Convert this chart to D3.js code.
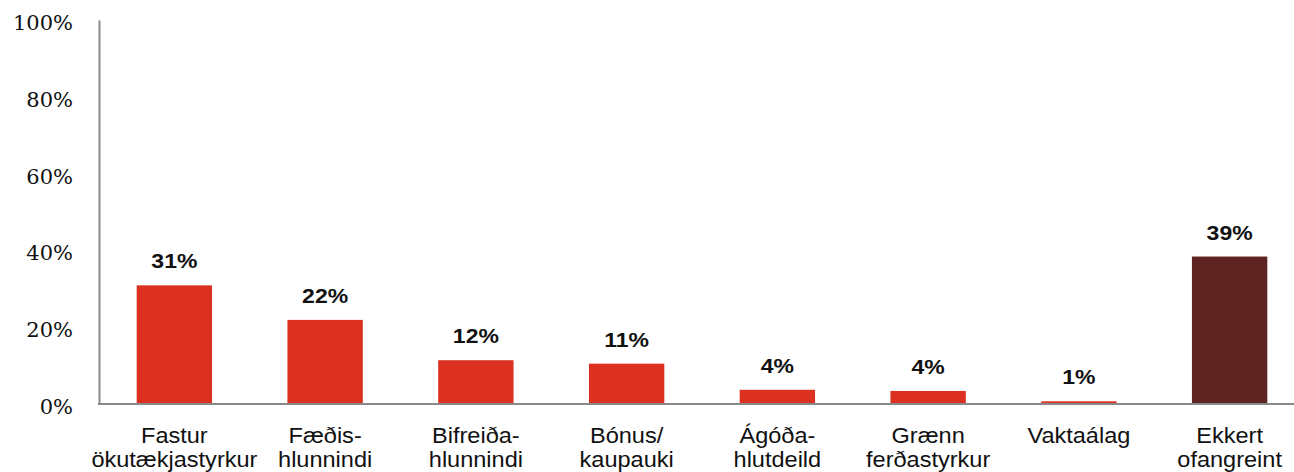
<html>
<head>
  <script src="https://d3js.org/d3.v7.min.js"></script>
  <style>
    body { margin: 0; background: #fff; }
    .ytick text { font-family: "DejaVu Serif", serif; font-size: 21px; fill: #111; }
    .value { font-family: "Liberation Sans", Arial, sans-serif; font-weight: bold; font-size: 20px; fill: #111; }
    .cat { font-family: "Liberation Sans", Arial, sans-serif; font-size: 22px; fill: #111; }
  </style>
</head>
<body>
<script>
var categories = [
  ["Fastur", "ökutækjastyrkur"],
  ["Fæðis-", "hlunnindi"],
  ["Bifreiða-", "hlunnindi"],
  ["Bónus/", "kaupauki"],
  ["Ágóða-", "hlutdeild"],
  ["Grænn", "ferðastyrkur"],
  ["Vaktaálag"],
  ["Ekkert", "ofangreint"]
];
var values = [30.9, 21.9, 11.4, 10.5, 3.7, 3.4, 0.7, 38.4];
var valueLabels = ["31%", "22%", "12%", "11%", "4%", "4%", "1%", "39%"];
var yTicks = [0, 20, 40, 60, 80, 100];

var width = 1294, height = 472;

var svg = d3.select("body").append("svg")
    .attr("width", width)
    .attr("height", height);

var x = d3.scaleBand()
    .domain(d3.range(categories.length))
    .range([99, 1305])
    .paddingInner(0.5)
    .paddingOuter(0.25);

var y = d3.scaleLinear()
    .domain([0, 100])
    .range([404, 20]);

// bars
svg.selectAll(".bar")
  .data(values)
  .enter()
  .append("rect")
    .attr("class", "bar")
    .attr("x", function(d, i) { return x(i); })
    .attr("width", x.bandwidth())
    .attr("y", function(d) { return y(d); })
    .attr("height", function(d) { return y(0) - y(d); })
    .attr("fill", function(d, i) { return i == values.length - 1 ? "#5e2421" : "#dc3121"; });

// value labels
svg.selectAll(".value")
  .data(values)
  .enter()
  .append("text")
    .attr("class", "value")
    .attr("text-anchor", "middle")
    .attr("transform", function(d, i) {
      return "translate(" + (x(i) + x.bandwidth() / 2) + "," + (y(d) - 17) + ") scale(1.15,1)";
    })
    .text(function(d, i) { return valueLabels[i]; });

// y axis
var yAxis = svg.append("g")
    .attr("class", "ytick")
    .attr("transform", "translate(99,0)")
    .call(d3.axisLeft(y).tickValues(yTicks).tickSize(0).tickPadding(26)
      .tickFormat(function(d) { return d + "%"; }));
yAxis.select(".domain").attr("stroke", "#898989").attr("stroke-width", 2);
yAxis.selectAll("text").attr("dy", "0.45em");

// x axis line
svg.append("line")
    .attr("x1", 98).attr("x2", width)
    .attr("y1", y(0)).attr("y2", y(0))
    .attr("stroke", "#898989")
    .attr("stroke-width", 2);

// category labels
var cats = svg.selectAll(".cat")
  .data(categories)
  .enter()
  .append("text")
    .attr("class", "cat")
    .attr("text-anchor", "middle")
    .attr("transform", function(d, i) {
      return "translate(" + (x(i) + x.bandwidth() / 2) + ",443) scale(1.07,1)";
    });

cats.selectAll("tspan")
  .data(function(d) { return d; })
  .enter()
  .append("tspan")
    .attr("x", 0)
    .attr("y", function(d, j) { return j * 24; })
    .text(function(d) { return d; });
</script>
</body>
</html>
